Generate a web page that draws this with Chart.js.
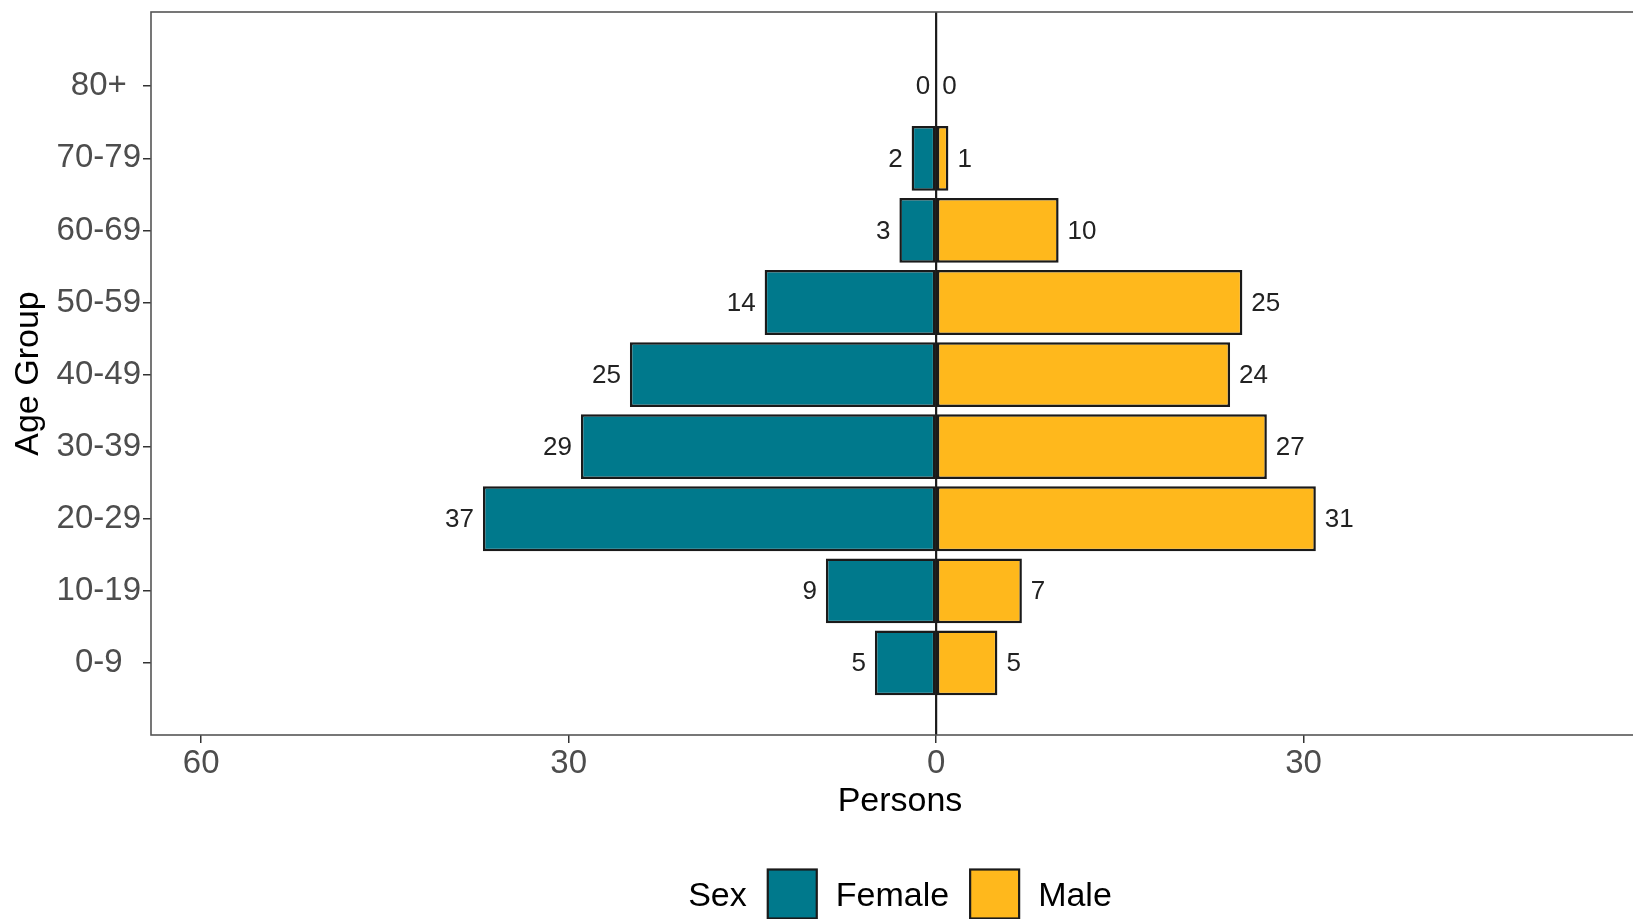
<!DOCTYPE html>
<html>
<head>
<meta charset="utf-8">
<script src="https://cdn.jsdelivr.net/npm/chart.js@4.4.1/dist/chart.umd.min.js"></script>
<style>
  html, body { margin: 0; padding: 0; background: #ffffff; overflow: hidden; }
  #wrap { width: 1655px; height: 919px; position: relative; }
</style>
</head>
<body>
<div id="wrap"><canvas id="chart"></canvas></div>
<script>
// ---- data ----
const ageGroups = ['0-9', '10-19', '20-29', '30-39', '40-49', '50-59', '60-69', '70-79', '80+'];
const femaleValues = [5, 9, 37, 29, 25, 14, 3, 2, 0];
const maleValues = [5, 7, 31, 27, 24, 25, 10, 1, 0];
const seriesNames = ['Female', 'Male'];
const xTickValues = [-60, -30, 0, 30];
const legendTitle = 'Sex';
const xTitle = 'Persons';
const yTitle = 'Age Group';

const FEMALE_COLOR = '#00798C';
const MALE_COLOR = '#FFB81C';
const FONT = '"Liberation Sans", Arial, Helvetica, sans-serif';

const panelPlugin = {
  id: 'panel',
  afterDatasetsDraw(chart) {
    const { ctx, chartArea: a, scales } = chart;
    ctx.save();
    // zero line
    const x0 = scales.x.getPixelForValue(0);
    ctx.strokeStyle = '#1a1a1a';
    ctx.lineWidth = 2.2;
    ctx.beginPath();
    ctx.moveTo(x0, a.top);
    ctx.lineTo(x0, a.bottom);
    ctx.stroke();
    // data labels
    ctx.font = '26px ' + FONT;
    ctx.fillStyle = '#222222';
    ctx.textBaseline = 'middle';
    chart.data.datasets.forEach((ds, di) => {
      const meta = chart.getDatasetMeta(di);
      const src = di === 0 ? femaleValues : maleValues;
      meta.data.forEach((bar, i) => {
        const txt = String(src[i]);
        if (di === 0) {
          ctx.textAlign = 'right';
          ctx.fillText(txt, bar.x - (src[i] === 0 ? 6 : 9), bar.y + 1);
        } else {
          ctx.textAlign = 'left';
          ctx.fillText(txt, bar.x + (src[i] === 0 ? 6 : 9), bar.y + 1);
        }
      });
    });
    // panel border
    ctx.strokeStyle = '#555555';
    ctx.lineWidth = 1.6;
    ctx.strokeRect(a.left, a.top, a.right - a.left, a.bottom - a.top);
    ctx.restore();
  },
  afterDraw(chart) {
    const { ctx, chartArea: a } = chart;
    ctx.save();
    ctx.font = '34px ' + FONT;
    ctx.textBaseline = 'middle';
    ctx.textAlign = 'left';
    const box = 49;
    const gapTitle = 21, gapBoxText = 19, gapItems = 21;
    const wTitle = ctx.measureText(legendTitle).width;
    const wItems = seriesNames.map(n => ctx.measureText(n).width);
    let total = wTitle + gapTitle;
    wItems.forEach((w, i) => { total += box + gapBoxText + w + (i < wItems.length - 1 ? gapItems : 0); });
    const cx = (a.left + a.right) / 2;
    let x = cx - total / 2;
    const cy = 894;
    const ty = cy + 3;
    ctx.fillStyle = '#000000';
    ctx.fillText(legendTitle, x, ty);
    x += wTitle + gapTitle;
    const colors = [FEMALE_COLOR, MALE_COLOR];
    seriesNames.forEach((n, i) => {
      ctx.fillStyle = colors[i];
      ctx.fillRect(x, cy - box / 2, box, box);
      ctx.strokeStyle = '#1a1a1a';
      ctx.lineWidth = 2.2;
      ctx.strokeRect(x, cy - box / 2, box, box);
      x += box + gapBoxText;
      ctx.fillStyle = '#000000';
      ctx.fillText(n, x, ty);
      x += wItems[i] + gapItems;
    });
    ctx.restore();
  }
};

new Chart(document.getElementById('chart'), {
  type: 'bar',
  data: {
    datasets: [
      {
        label: seriesNames[0],
        data: femaleValues.map((v, i) => ({ x: -v, y: i })),
        backgroundColor: FEMALE_COLOR,
        borderColor: '#1a1a1a',
        borderWidth: 2.5,
        borderSkipped: false,
        barPercentage: 0.9,
        categoryPercentage: 1.0
      },
      {
        label: seriesNames[1],
        data: maleValues.map((v, i) => ({ x: v, y: i })),
        backgroundColor: MALE_COLOR,
        borderColor: '#1a1a1a',
        borderWidth: 2.5,
        borderSkipped: false,
        barPercentage: 0.9,
        categoryPercentage: 1.0
      }
    ]
  },
  options: {
    indexAxis: 'y',
    responsive: true,
    maintainAspectRatio: false,
    animation: false,
    devicePixelRatio: 1,
    layout: { padding: { top: 12, left: 0, right: 6, bottom: 0 } },
    plugins: {
      legend: { display: false },
      tooltip: { enabled: false }
    },
    scales: {
      x: {
        type: 'linear',
        stacked: true,
        min: -64.1,
        max: 58.2,
        afterBuildTicks: (scale) => { scale.ticks = xTickValues.map(v => ({ value: v })); },
        afterFit: (scale) => {
          scale.height = 184;
          scale.paddingLeft = 0; scale.paddingRight = 0;
        },
        border: { display: false },
        grid: { drawOnChartArea: false, drawTicks: true, tickLength: 8, tickColor: '#333333', lineWidth: 1.5 },
        ticks: {
          color: '#4d4d4d',
          font: { family: FONT, size: 33 },
          padding: 1,
          maxRotation: 0,
          autoSkip: false,
          callback: (v) => String(Math.abs(v))
        },
        title: {
          display: true,
          text: xTitle,
          color: '#000000',
          font: { family: FONT, size: 34 },
          padding: { top: 0, bottom: 97 }
        }
      },
      y: {
        type: 'linear',
        stacked: true,
        offset: false,
        min: -1,
        max: 9.03,
        afterBuildTicks: (scale) => { scale.ticks = ageGroups.map((_, i) => ({ value: i })); },
        afterFit: (scale) => {
          scale.width = 151;
          scale.paddingTop = 0; scale.paddingBottom = 0;
        },
        border: { display: false },
        grid: { offset: false, drawOnChartArea: false, drawTicks: true, tickLength: 8, tickColor: '#333333', lineWidth: 1.5 },
        ticks: {
          color: '#4d4d4d',
          font: { family: FONT, size: 33 },
          padding: 2,
          crossAlign: 'center',
          autoSkip: false,
          callback: (v) => ageGroups[v] !== undefined ? ageGroups[v] : ''
        },
        title: {
          display: true,
          text: yTitle,
          color: '#000000',
          font: { family: FONT, size: 34 },
          padding: { top: 8, bottom: 0 }
        }
      }
    }
  },
  plugins: [panelPlugin]
});
</script>
</body>
</html>
